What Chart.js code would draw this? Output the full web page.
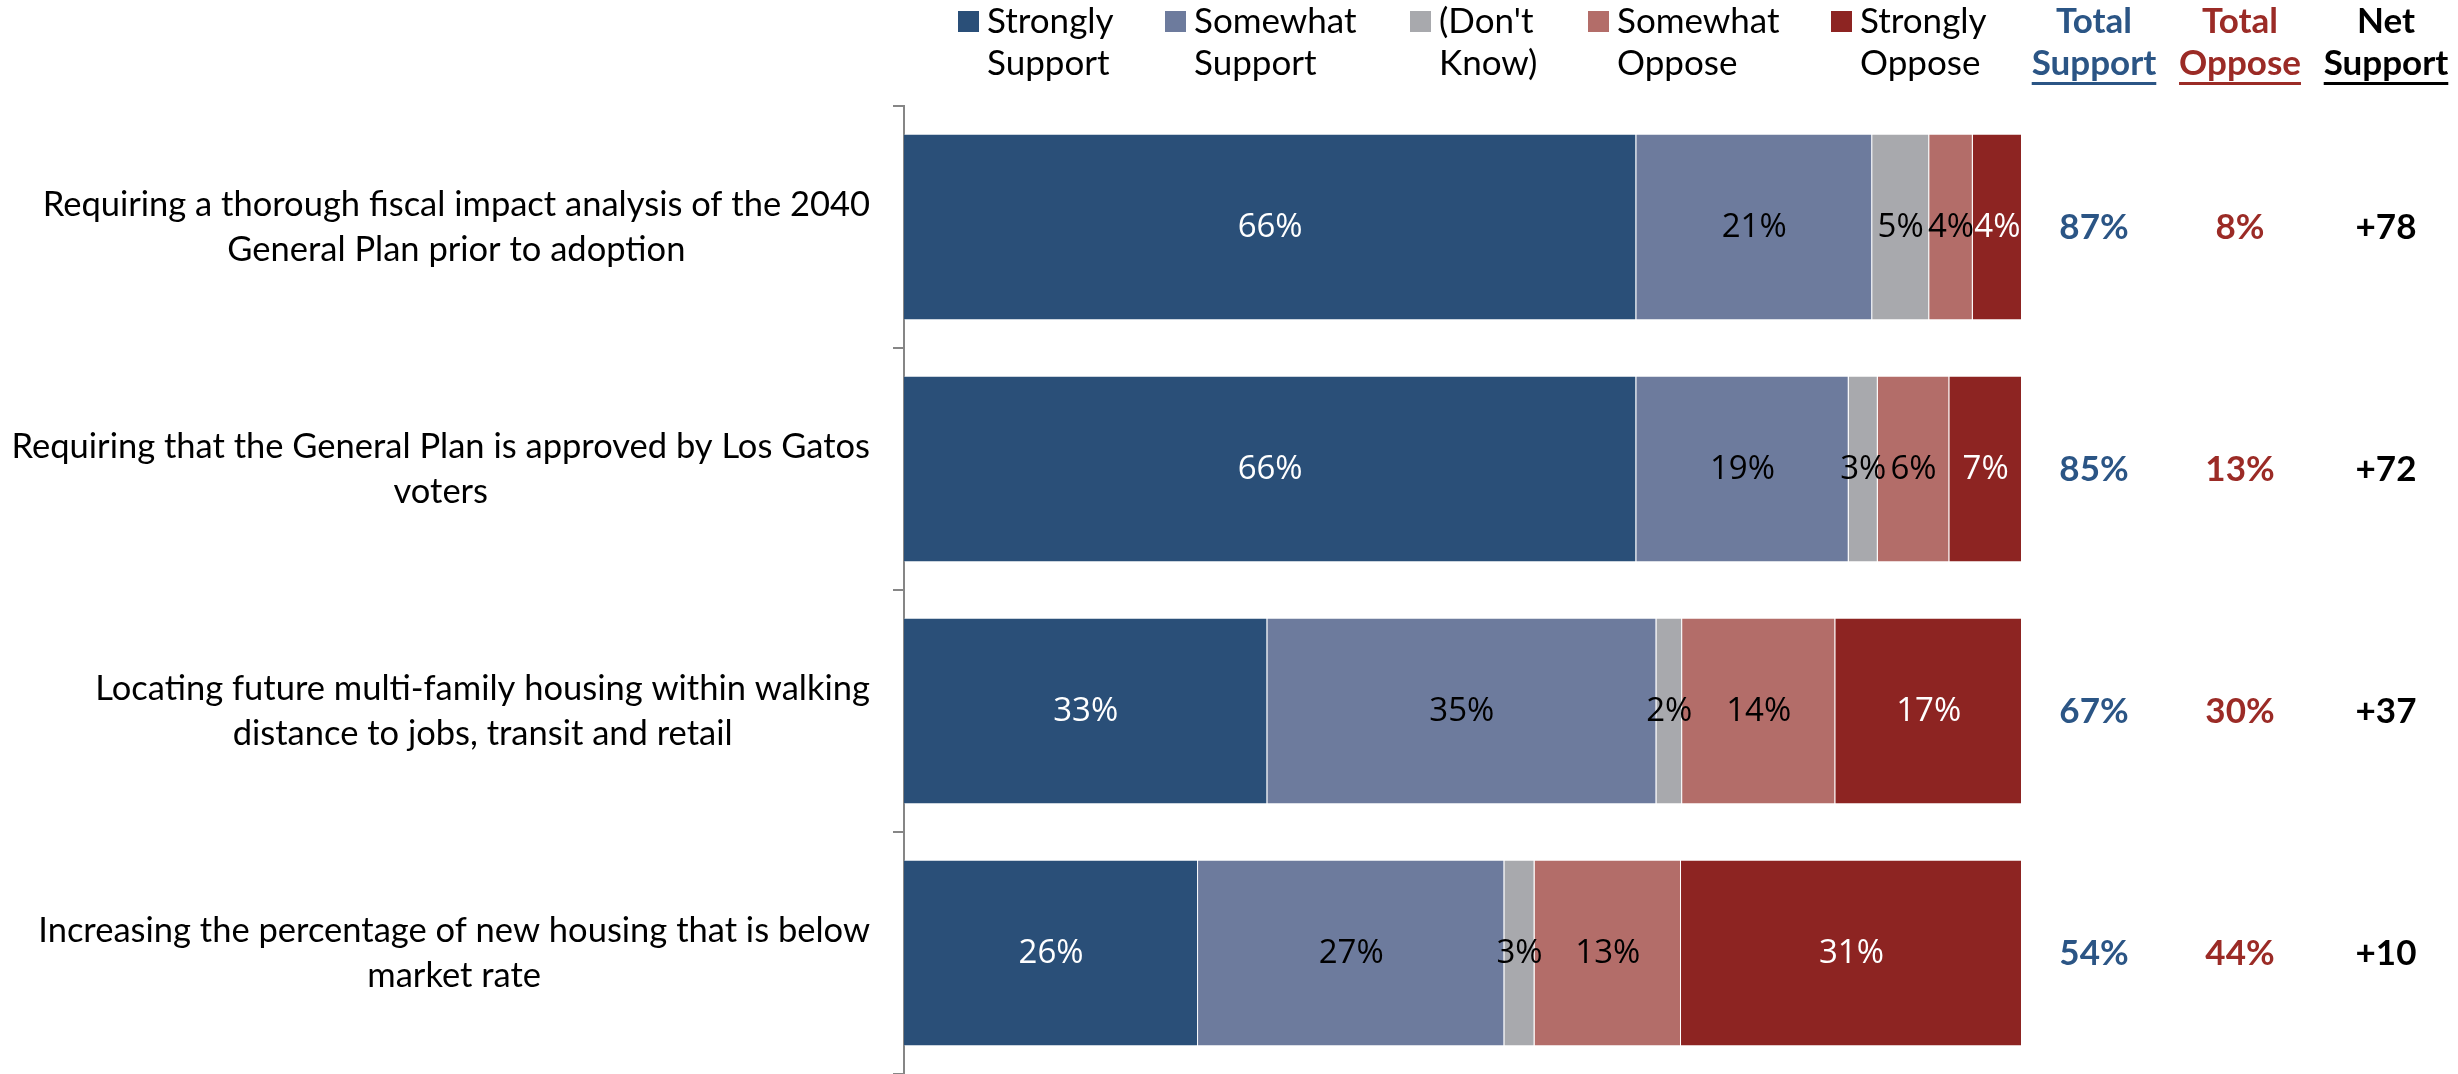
<!DOCTYPE html>
<html><head><meta charset="utf-8">
<script src="https://cdn.jsdelivr.net/npm/chart.js@4"></script>
<style>html,body{margin:0;padding:0;background:#fff;overflow:hidden}</style>
</head><body>
<canvas id="c" width="2458" height="1074" style="width:2458px;height:1074px;display:block"></canvas>
<script>
const categories = [
  ["Requiring a thorough fiscal impact analysis of the 2040", "General Plan prior to adoption"],
  ["Requiring that the General Plan is approved by Los Gatos", "voters"],
  ["Locating future multi-family housing within walking", "distance to jobs, transit and retail"],
  ["Increasing the percentage of new housing that is below", "market rate"]
];
const seriesNames = ["Strongly Support", "Somewhat Support", "(Don't Know)", "Somewhat Oppose", "Strongly Oppose"];
const legendLines = [["Strongly", "Support"], ["Somewhat", "Support"], ["(Don't", "Know)"], ["Somewhat", "Oppose"], ["Strongly", "Oppose"]];
const stronglySupport = [65.5, 65.5, 32.5, 26.3];
const somewhatSupport = [21.1, 19.0, 34.8, 27.4];
const dontKnow        = [5.1, 2.6, 2.3, 2.7];
const somewhatOppose  = [3.9, 6.4, 13.7, 13.1];
const stronglyOppose  = [4.4, 6.5, 16.7, 30.5];
const totalSupport = [87, 85, 67, 54];
const totalOppose  = [8, 13, 30, 44];
const netSupport   = [78, 72, 37, 10];
const columnHeaders = [["Total", "Support"], ["Total", "Oppose"], ["Net", "Support"]];

const seriesColors = ["#2A4F78", "#6D7B9D", "#A8A9AD", "#B36D69", "#8D2422"];
const labelColors  = ["#FFFFFF", "#000000", "#000000", "#000000", "#FFFFFF"];
const colColors = ["#2B5585", "#9B2B26", "#000000"];
const CAL = 'Lato, "Open Sans", sans-serif';

const seriesData = [stronglySupport, somewhatSupport, dontKnow, somewhatOppose, stronglyOppose];

const extrasPlugin = {
  id: 'extras',
  afterDatasetsDraw(chart) {
    const ctx = chart.ctx;
    const ys = chart.scales.y;
    ctx.save();
    // category labels: each block right-aligned, lines centred within the block
    ctx.font = '34.5px ' + CAL;
    ctx.fillStyle = '#000';
    ctx.textAlign = 'center';
    ctx.textBaseline = 'middle';
    const labelRight = 870, lineGap = 45;
    chart.data.labels.forEach((lines, i) => {
      const w = Math.max(...lines.map(l => ctx.measureText(l).width));
      const cx = labelRight - w / 2;
      const cy = ys.getPixelForValue(i);
      lines.forEach((l, k) => {
        ctx.fillText(l, cx, cy + (k - (lines.length - 1) / 2) * lineGap);
      });
    });
    // value labels inside bars
    ctx.font = '33px "Open Sans", sans-serif';
    chart.data.datasets.forEach((ds, di) => {
      const meta = chart.getDatasetMeta(di);
      meta.data.forEach((bar, i) => {
        const p = bar.getProps(['x', 'y', 'base'], true);
        ctx.fillStyle = labelColors[di];
        ctx.fillText(Math.round(ds.data[i]) + '%', (p.x + p.base) / 2, p.y + 1);
      });
    });
    // right columns
    const colX = [2094, 2240, 2386];
    const colVals = [totalSupport.map(v => v + '%'), totalOppose.map(v => v + '%'), netSupport.map(v => (v > 0 ? '+' : '') + v)];
    ctx.font = 'bold 35px ' + CAL;
    colVals.forEach((vals, c) => {
      ctx.fillStyle = colColors[c];
      vals.forEach((t, i) => {
        ctx.fillText(t, colX[c], ys.getPixelForValue(i) + 1);
      });
    });
    ctx.textBaseline = 'alphabetic';
    columnHeaders.forEach((lines, c) => {
      ctx.fillStyle = colColors[c];
      ctx.fillText(lines[0], colX[c], 33);
      ctx.fillText(lines[1], colX[c], 75);
      const w = ctx.measureText(lines[1]).width;
      ctx.fillRect(colX[c] - w / 2, 82, w, 3);
    });
    // legend
    const swX = [958, 1165, 1410, 1588, 1831];
    ctx.font = '35px ' + CAL;
    ctx.textAlign = 'left';
    chart.data.datasets.forEach((ds, di) => {
      ctx.fillStyle = ds.backgroundColor;
      ctx.fillRect(swX[di], 11, 21, 21);
      ctx.fillStyle = '#000';
      ctx.fillText(legendLines[di][0], swX[di] + 29, 33);
      ctx.fillText(legendLines[di][1], swX[di] + 29, 75);
    });
    ctx.restore();
  }
};

new Chart(document.getElementById('c'), {
  type: 'bar',
  data: {
    labels: categories,
    datasets: seriesNames.map((n, i) => ({
      label: n,
      data: seriesData[i],
      backgroundColor: seriesColors[i],
      borderColor: 'rgba(255,255,255,0.35)',
      borderWidth: 1,
      barPercentage: 0.77,
      categoryPercentage: 1
    }))
  },
  options: {
    indexAxis: 'y',
    responsive: false,
    animation: false,
    devicePixelRatio: 1,
    layout: { padding: { top: 106, right: 436, bottom: 0, left: 0 } },
    plugins: { legend: { display: false }, tooltip: { enabled: false } },
    scales: {
      x: { stacked: true, min: 0, max: 100, display: false },
      y: {
        stacked: true,
        grid: { display: true, drawOnChartArea: false, drawTicks: true, tickLength: 11, color: '#868686', lineWidth: 2, offset: true },
        border: { display: true, color: '#868686', width: 2 },
        ticks: { display: false },
        afterFit(s) { s.width = 904; s.paddingTop = 0; s.paddingBottom = 0; }
      }
    }
  },
  plugins: [extrasPlugin]
});
</script>
</body></html>
